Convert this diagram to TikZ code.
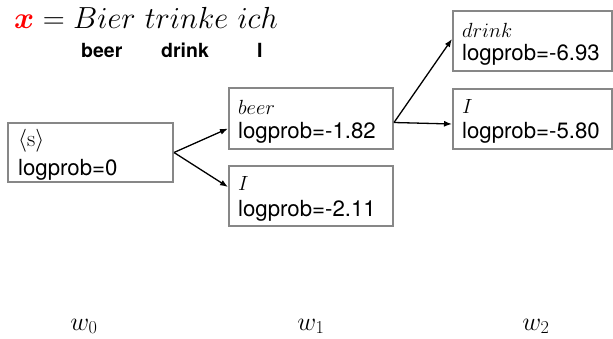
\RequirePackage{fix-cm}
\documentclass[tikz,border=0pt]{standalone}
\usepackage{amsmath,bm}
\usepackage{fontspec}
\newfontfamily\heros{TeX Gyre Heros}
\usetikzlibrary{arrows.meta,calc}
\definecolor{boxgray}{RGB}{135,135,135}
\begin{document}
\begin{tikzpicture}[x=1pt,y=-1pt,
  hyp/.style={draw=boxgray, line width=2pt, minimum width=164pt,
    minimum height=60pt, inner sep=0pt, anchor=north west},
  word/.style={anchor=base west, inner sep=0pt, font=\fontsize{20.5}{22}\selectfont},
  score/.style={anchor=base west, inner sep=0pt, font=\heros\fontsize{22.2}{24}\selectfont},
  gloss/.style={anchor=base west, inner sep=0pt, font=\heros\bfseries\fontsize{19.5}{21}\selectfont},
  steplabel/.style={anchor=base, inner sep=0pt, font=\fontsize{26}{28}\selectfont},
  edge/.style={line width=1.3pt, -{Latex[length=8pt,width=6pt]}}]
\useasboundingbox (0,0) rectangle (613,338);

% source sentence and glosses
\node[anchor=base west, inner sep=0pt, font=\fontsize{30.5}{33}\selectfont] (src)
  at (14,28) {${\color{red}\bm{x}} = Bier\ trinke\ ich$};
\node[gloss] (g1) at (81,57) {beer};
\node[gloss] (g2) at (161,57) {drink};
\node[gloss] (g3) at (257,57) {I};

% hypotheses
\node[hyp, minimum width=165pt, minimum height=59pt] (s) at (7,122) {};
\node[word, font=\fontsize{23}{24}\selectfont] (sw) at ($(s.north west)+(11,24)$) {$\langle\mathrm{s}\rangle$};
\node[score] (sp) at ($(s.north west)+(11,53)$) {logprob=0};

\node[hyp, minimum height=61pt] (b1) at (228,87) {};
\node[word]  (b1w) at ($(b1.north west)+(10,27)$) {$beer$};
\node[score] (b1p) at ($(b1.north west)+(10,51)$) {logprob=-1.82};

\node[hyp] (i1) at (228,165) {};
\node[word]  (i1w) at ($(i1.north west)+(10,25)$) {$I$};
\node[score] (i1p) at ($(i1.north west)+(10,51)$) {logprob=-2.11};

\node[hyp, minimum width=159pt] (d2) at (452,10) {};
\node[word]  (d2w) at ($(d2.north west)+(10,27)$) {$drink$};
\node[score] (d2p) at ($(d2.north west)+(10,50)$) {logprob=-6.93};

\node[hyp, minimum width=159pt] (i2) at (452,88) {};
\node[word]  (i2w) at ($(i2.north west)+(10,25)$) {$I$};
\node[score] (i2p) at ($(i2.north west)+(10,50)$) {logprob=-5.80};

% expansions
\draw[edge] (s.east) -- ([yshift=-10pt]b1.west);
\draw[edge] (s.east) -- ([yshift=9pt]i1.west);
\draw[edge] ([yshift=-4pt]b1.east) -- ([yshift=2pt]d2.west);
\draw[edge] ([yshift=-4pt]b1.east) -- ([yshift=-5pt]i2.west);

% time steps
\node[steplabel] (w0) at (84,330) {$w_0$};
\node[steplabel] (w1) at (311,330) {$w_1$};
\node[steplabel] (w2) at (536,330) {$w_2$};
\end{tikzpicture}
\end{document}
